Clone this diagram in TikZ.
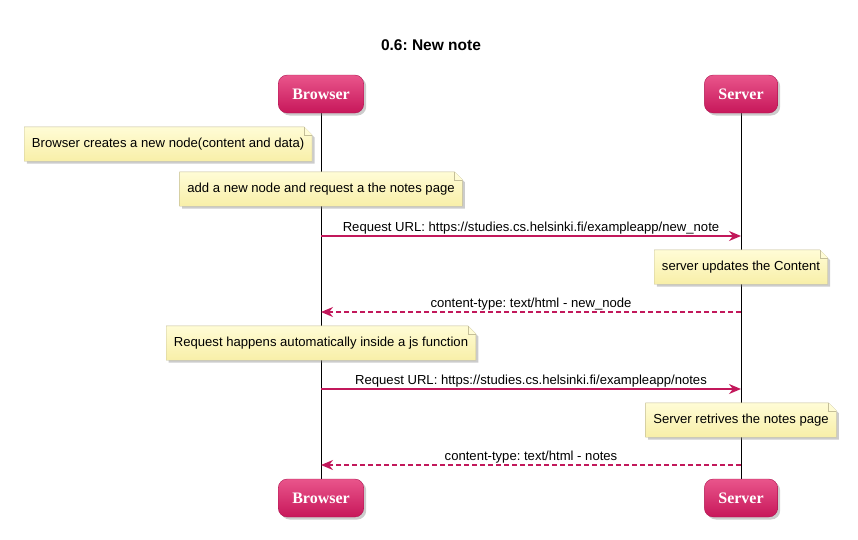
\documentclass[tikz,border=0pt]{standalone}
\usepackage{fontspec}
\setmainfont{Liberation Sans}
\newfontfamily\partfont{Liberation Serif}
\usetikzlibrary{arrows.meta,positioning,shadows,backgrounds}
\definecolor{msgpink}{HTML}{C2185B}
\definecolor{parttop}{HTML}{E9558B}
\definecolor{partbot}{HTML}{C7175A}
\definecolor{notetop}{HTML}{FFFCD6}
\definecolor{notebot}{HTML}{F8EFA8}
\definecolor{noteline}{HTML}{C4BE98}
\frenchspacing
\tikzset{
  part/.style={rounded corners=9pt, minimum height=38pt, inner xsep=14pt,
    top color=parttop, bottom color=partbot, draw=msgpink!90!black, text=white,
    font=\partfont\bfseries\fontsize{16}{18}\selectfont,
    drop shadow={shadow xshift=2.5pt, shadow yshift=-2.5pt, opacity=0.4}},
  note/.style={minimum height=34pt, inner xsep=7.5pt, font=\fontsize{13.1}{15}\selectfont},
  notebg/.style={draw=noteline, top color=notetop, bottom color=notebot,
    drop shadow={shadow xshift=2.5pt, shadow yshift=-2.5pt, opacity=0.4}},
  msg/.style={-{Stealth[length=12pt,width=10pt]}, msgpink, line width=1.5pt},
  reply/.style={msg, dash pattern=on 5pt off 3pt},
  lbl/.style={font=\fontsize{13.1}{15}\selectfont, text=black, inner sep=1.5pt}
}
\begin{document}
\begin{tikzpicture}[x=1pt,y=-1pt]
  \useasboundingbox (0,0) rectangle (858,539);
  \node[font=\bfseries\fontsize{15.5}{18}\selectfont] (title) at (431,45) {0.6: New note};
  \node[part] (b) at (321,94) {Browser};
  \node[part] (s) at (741,94) {Server};
  \node[part] (b2) at (321,498) {Browser};
  \node[part] (s2) at (741,498) {Server};
  \node[note, anchor=east] (n1) at (312,144) {Browser creates a new node(content and data)};
  \node[note] (n2) at (321,189) {add a new node and request a the notes page};
  \node[note] (n3) at (741,267) {server updates the Content};
  \node[note] (n4) at (321,343) {Request happens automatically inside a js function};
  \node[note] (n5) at (741,420) {Server retrives the notes page};
  \foreach \y/\i in {236/1,312/2,389/3,465/4} {
    \coordinate (bl\i) at (b.south |- 0,\y);
    \coordinate (sl\i) at (s.south |- 0,\y);
  }
  \begin{scope}[on background layer]
    \draw (b) -- (b2);
    \draw (s) -- (s2);
    \foreach \i in {1,...,5} {
      \draw[notebg] (n\i.north west) -- ([xshift=-8pt]n\i.north east) -- ([yshift=-8pt]n\i.north east)
        -- (n\i.south east) -- (n\i.south west) -- cycle;
      \draw[noteline, fill=notetop] ([xshift=-8pt]n\i.north east) -- ([xshift=-8pt,yshift=-8pt]n\i.north east)
        -- ([yshift=-8pt]n\i.north east);
    }
  \end{scope}
  \draw[msg] (bl1) -- node[lbl, above] {Request URL: https://studies.cs.helsinki.fi/exampleapp/new\_note} (sl1);
  \draw[reply] (sl2) -- node[lbl, above] {content-type: text/html - new\_node} (bl2);
  \draw[msg] (bl3) -- node[lbl, above] {Request URL: https://studies.cs.helsinki.fi/exampleapp/notes} (sl3);
  \draw[reply] (sl4) -- node[lbl, above] {content-type: text/html - notes} (bl4);
\end{tikzpicture}
\end{document}
